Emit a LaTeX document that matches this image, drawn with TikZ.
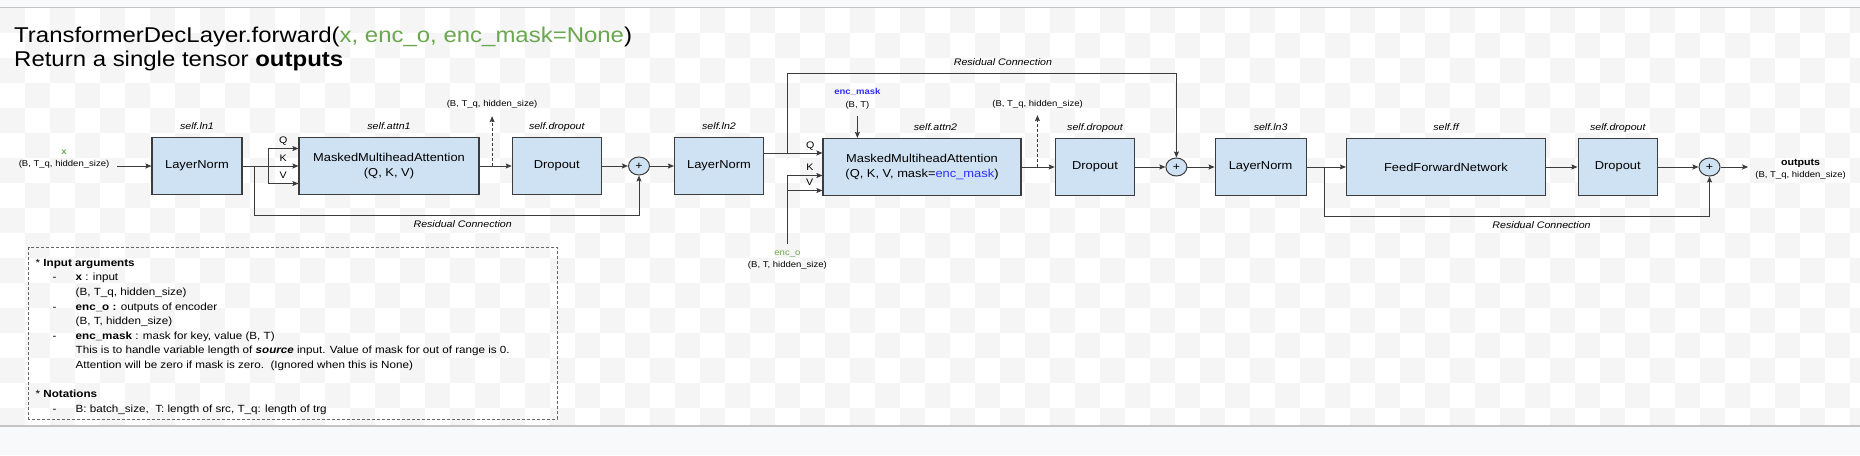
\documentclass[tikz,border=0pt]{standalone}
\usepackage{fontspec}
\setmainfont{Liberation Sans}[FakeStretch=1.12]
\usepackage{xcolor}
\usepackage{tikz}
\usetikzlibrary{arrows.meta,positioning,shapes.geometric}

\definecolor{boxfill}{HTML}{CFE2F3}
\definecolor{boxline}{HTML}{3C3C3C}
\definecolor{argGreen}{HTML}{6AA84F}
\definecolor{maskBlue}{HTML}{2E2EFF}
\definecolor{checker}{HTML}{F5F5F5}
\definecolor{pageBar}{HTML}{F8F9FA}
\definecolor{barLine}{HTML}{C4C4C4}

\newcommand{\nitem}{\hspace*{17pt}\makebox[23pt][l]{-}}
\newcommand{\ncont}{\hspace*{40pt}}

\begin{document}
\begin{tikzpicture}[
  x=1pt, y=-1pt,
  label distance=2pt,
  blk/.style={rectangle, draw=boxline, line width=1.1pt, fill=boxfill, align=center,
              font=\fontsize{11.5}{15.5}\selectfont, minimum height=57pt, inner sep=0pt},
  addop/.style={ellipse, draw=boxline, line width=1pt, fill=boxfill, minimum width=21pt,
              minimum height=18pt, inner sep=0pt, font=\fontsize{11}{11}\selectfont},
  slbl/.style={font=\fontsize{9.5}{9.5}\selectfont\itshape, text height=7pt, text depth=2pt},
  shp/.style={align=center, font=\fontsize{8.5}{12.5}\selectfont, inner sep=1pt},
  qkv/.style={font=\fontsize{9.5}{9.5}\selectfont, inner sep=1.5pt, text depth=0pt, above=3pt},
  res/.style={font=\fontsize{9.5}{9.5}\selectfont\itshape, text height=7pt, text depth=2pt},
  arr/.style={-{Stealth[length=6pt,width=5pt,inset=1pt]}, draw=boxline, line width=1pt},
  darr/.style={arr, dash pattern=on 3pt off 2pt},
  lin/.style={draw=boxline, line width=1pt},
  notebox/.style={draw=black!60, line width=1pt, dash pattern=on 3pt off 2pt}
]
\useasboundingbox (0,0) rectangle (1860,455);

% page background
\begin{scope}
  \clip (0,8) rectangle (1860,426);
  \foreach \i in {0,2,...,74} \foreach \j in {0,2,...,16} {
    \fill[checker] (\i*25, 8+\j*25) rectangle ++(25,25);
    \fill[checker] (\i*25+25, 33+\j*25) rectangle ++(25,25);
  }
\end{scope}
\fill[pageBar] (0,0) rectangle (1860,7);
\draw[barLine, line width=1.5pt] (0,7.5) -- (1860,7.5);
\fill[pageBar] (0,426) rectangle (1860,455);
\draw[barLine, line width=1.5pt] (0,426) -- (1860,426);

% title
\node[anchor=base west, inner sep=0pt, font=\fontsize{21.4}{24}\selectfont] (title) at (14,42.5)
  {TransformerDecLayer.forward(\textcolor{argGreen}{x, enc\_o, enc\_mask=None})};
\node[anchor=base west, inner sep=0pt, font=\fontsize{21.4}{24}\selectfont] (subtitle) at (14,66.5)
  {Return a single tensor \textbf{outputs}};

% modules
\node[blk, minimum width=90pt, label={[slbl]above:self.ln1}] (ln1) at (197,166) {LayerNorm};
\node[blk, minimum width=180pt, label={[slbl]above:self.attn1}] (attn1) at (389,166) {MaskedMultiheadAttention\\(Q, K, V)};
\node[blk, minimum width=89pt, label={[slbl]above:self.dropout}] (drop1) at (556.8,166) {Dropout};
\node[addop] (add1) at (639,166) {+};
\node[blk, minimum width=89pt, label={[slbl]above:self.ln2}] (ln2) at (719,166) {LayerNorm};
\node[blk, minimum width=198pt, label={[slbl, xshift=13.5pt]above:self.attn2}] (attn2) at (922,167)
  {MaskedMultiheadAttention\\(Q, K, V, mask=\textcolor{maskBlue}{enc\_mask})};
\node[blk, minimum width=79.5pt, label={[slbl]above:self.dropout}] (drop2) at (1095,167) {Dropout};
\node[addop] (add2) at (1176.4,167) {+};
\node[blk, minimum width=91pt, label={[slbl, xshift=10pt]above:self.ln3}] (ln3) at (1260.6,167) {LayerNorm};
\node[blk, minimum width=199pt, label={[slbl]above:self.ff}] (ffn) at (1446,167) {FeedForwardNetwork};
\node[blk, minimum width=79.5pt, label={[slbl]above:self.dropout}] (drop3) at (1617.8,167) {Dropout};
\node[addop] (add3) at (1709.5,167) {+};

% inputs, outputs, shapes
\node[shp] (xin) at (64,159) {\textcolor{argGreen}{\textbf{x}}\\(B, T\_q, hidden\_size)};
\node[shp] (enco) at (787.4,260) {\textcolor{argGreen}{enc\_o}\\(B, T, hidden\_size)};
\node[shp] (emask) at (857.4,99) {\textcolor{maskBlue}{\textbf{enc\_mask}}\\(B, T)};
\node[shp] (sz1) at (492,104) {(B, T\_q, hidden\_size)};
\node[shp] (sz2) at (1037.6,104) {(B, T\_q, hidden\_size)};
\node[shp] (out) at (1800.6,169.5) {\textbf{\fontsize{9.5}{12.5}\selectfont outputs}\\(B, T\_q, hidden\_size)};

\coordinate (split1) at (268,166);
\coordinate (q2) at ([yshift=13pt]ln2.east);

% block 1
\draw[arr] ([xshift=7pt]xin.east |- ln1.west) -- (ln1.west);
\draw[lin] (ln1.east) -- coordinate[pos=0.45] (res1) (split1);
\draw[arr] (split1) |- node[qkv, pos=0.75]{Q} ([yshift=17.5pt]attn1.west);
\draw[arr] (split1) -- node[qkv]{K} (attn1.west);
\draw[arr] (split1) |- node[qkv, pos=0.75]{V} ([yshift=-17.5pt]attn1.west);
\draw[arr] (attn1) -- coordinate[pos=0.39] (tap1) (drop1);
\draw[darr, shorten >=7pt] (tap1) -- (tap1 |- sz1.south);
\draw[arr] (drop1) -- (add1);
\draw[arr] (res1) -- ++(0,49) -| node[res, below=2pt, pos=0.271]{Residual Connection} (add1.south);

% block 2
\draw[arr] (add1) -- (ln2);
\draw[arr] (q2) -- coordinate[pos=0.4] (res2) node[qkv, pos=0.79]{Q} (q2 -| attn2.west);
\draw[arr, shorten <=5pt] (enco.north) |- node[qkv, pos=0.82]{K} ([yshift=-8.5pt]attn2.west);
\draw[arr] ([yshift=-23.5pt]attn2.west -| enco.north) -- node[qkv, pos=0.635]{V} ([yshift=-23.5pt]attn2.west);
\draw[arr, shorten <=6pt] (emask.south) -- (emask.south |- attn2.north);
\draw[arr] (attn2) -- coordinate[pos=0.48] (tap2) (drop2);
\draw[darr, shorten >=6pt] (tap2) -- (tap2 |- sz2.south);
\draw[arr] (drop2) -- (add2);
\draw[arr] (res2) -- ++(0,-80) -| node[res, above=2pt, pos=0.277]{Residual Connection} (add2.north);

% block 3
\draw[arr] (add2) -- (ln3);
\draw[arr] (ln3) -- coordinate[pos=0.45] (res3) (ffn);
\draw[arr] (ffn) -- (drop3);
\draw[arr] (drop3) -- (add3);
\draw[arr, shorten >=6pt] (add3) -- (add3 -| out.west);
\draw[arr] (res3) -- ++(0,49) -| node[res, below=2pt, pos=0.282]{Residual Connection} (add3.south);

% notes
\draw[notebox] (28.9,247) rectangle (557,419);
\node[anchor=north west, align=left, inner sep=0pt, font=\fontsize{10.4}{14.6}\selectfont] (notes) at (35.5,259) {%
* \textbf{Input arguments}\\
\nitem\textbf{x} : input\\
\ncont(B, T\_q, hidden\_size)\\
\nitem\textbf{enc\_o :} outputs of encoder\\
\ncont(B, T, hidden\_size)\\
\nitem\textbf{enc\_mask} : mask for key, value (B, T)\\
\ncont This is to handle variable length of \textbf{\textit{source}} input. Value of mask for out of range is 0.\\
\ncont Attention will be zero if mask is zero.\ \ (Ignored when this is None)\\
\mbox{}\\
* \textbf{Notations}\\
\nitem B: batch\_size,\ \ T: length of src, T\_q: length of trg};
\end{tikzpicture}
\end{document}
